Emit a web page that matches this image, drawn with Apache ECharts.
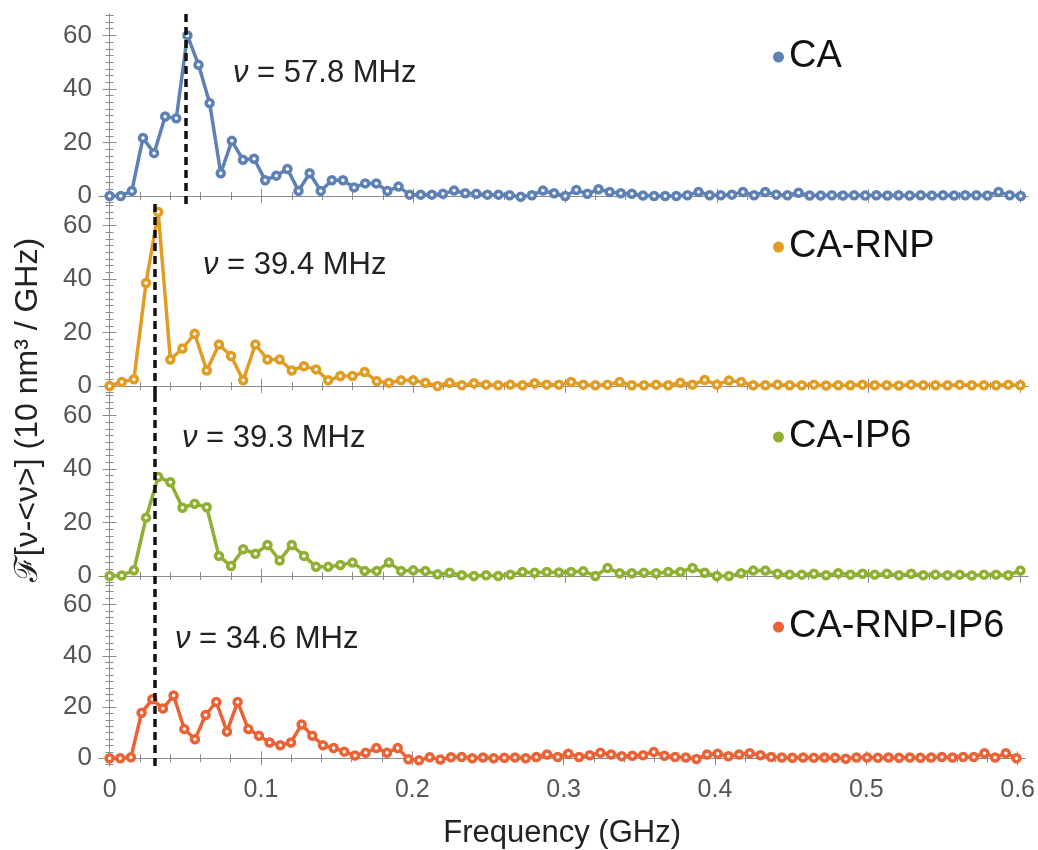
<!DOCTYPE html>
<html>
<head>
<meta charset="utf-8">
<title>Frequency spectra</title>
<script src="https://cdn.jsdelivr.net/npm/echarts@6.0.0/dist/echarts.min.js"></script>
<style>
  html, body { margin: 0; padding: 0; background: #fff; }
  #chart { width: 1038px; height: 850px; }
</style>
</head>
<body>
<div id="chart"></div>
<script>
// one panel per spectrum, top to bottom
var seriesNames = ['CA', 'CA-RNP', 'CA-IP6', 'CA-RNP-IP6'];
var seriesColors = ['#5e81b5', '#e19c24', '#8fb032', '#eb6235'];
// frequency spacing of each spectrum in GHz (first point sits at 0)
var freqSteps = [0.00732, 0.008, 0.008, 0.00705];
// dashed line position (GHz) and the value written next to it (MHz)
var peakFreqs = [0.0515, 0.0326, 0.0317, 0.028];
var peakLabels = ['57.8', '39.4', '39.3', '34.6'];

var caValues = [0, 0, 1.9, 21.7, 16, 29.7, 29, 60, 49, 34.7,
  8.5, 20.6, 13.5, 13.9, 5.9, 7.6, 10.1, 1.9, 8.5, 1.9,
  5.9, 5.9, 3.2, 4.7, 4.7, 1.9, 3.5, 0.5, 0.5, 0.5,
  0.8, 2, 1, 0.8, 0.5, 0.5, 0.3, -0.3, 0.3, 2,
  1, 0, 2.2, 0.8, 2.5, 1.5, 1, 0.8, 0.2, 0,
  0, 0, 0.3, 1.5, 0.3, 0.3, 0.5, 1.5, 0.3, 1.5,
  0.5, 0.3, 1.2, 0.2, 0.2, 0.3, 0.2, 0.3, 0.2, 0.3,
  0.2, 0.3, 0.2, 0.3, 0.2, 0.3, 0.2, 0.3, 0.3, 0.2,
  1.5, 0.3, 0];

var caRnpValues = [0, 1.5, 2.5, 38.5, 65, 9.9, 14, 19.5, 5.8, 15.5,
  11.2, 2.1, 15.5, 9.9, 9.9, 5.8, 7.4, 6.2, 2.1, 3.7,
  3.7, 5.2, 1.8, 1.2, 2.1, 2.1, 1.2, 0, 1.2, 0.3,
  1, 0.5, 0.3, 0.5, 0.3, 1, 0.5, 0.5, 1.5, 0.5,
  0.3, 0.5, 1.5, 0.3, 0.3, 0.5, 0.3, 1.2, 0.5, 2.2,
  0.5, 2, 1.5, 0.3, 0.3, 0.5, 0.3, 0.3, 0.5, 0.2,
  0.3, 0.3, 0.5, 0.3, 0.3, 0.2, 0.5, 0.3, 0.3, 0.3,
  0.5, 0.3, 0.3, 0.3, 0.5, 0.3];

var caIp6Values = [0, 0.2, 2.1, 21.8, 37, 35, 25.5, 27, 25.7, 7.5,
  3.7, 10, 8.3, 11.6, 5.8, 11.6, 7.5, 3.4, 3.4, 4.1,
  5, 1.9, 1.9, 5, 1.9, 2.1, 1.9, 0.6, 1.2, 0.3,
  0, 0.3, 0, 0.5, 1.5, 1.2, 1.5, 1.3, 1.5, 1.8,
  0, 3, 1, 1, 1.2, 1, 1.5, 1.5, 3, 1.2,
  0, 0, 1, 2, 2, 0.8, 0.5, 0.5, 0.8, 0.3,
  1, 0.5, 0.8, 0.5, 0.8, 0.3, 0.8, 0.3, 0.5, 0.3,
  0.5, 0.2, 0.5, 0.5, 0.3, 2];

var caRnpIp6Values = [0, 0, 0.4, 17.8, 23, 19.4, 24.5, 11.4, 7.4, 16.9,
  22, 10.4, 22, 11.4, 8.8, 6.2, 5.1, 6.2, 13.2, 8.8,
  5.1, 4, 2.6, 1.1, 2.2, 4, 2.2, 4, -0.4, -0.8,
  0.4, -0.5, 0.4, 0.5, 0, 0.3, 0, 0.2, 0.3, 0,
  0.5, 1.5, 0.5, 1.8, 0.5, 1.2, 2.2, 1.5, 0.8, 1,
  1.2, 2.5, 1, 0.5, 0.3, -0.3, 1.5, 1.8, 0.8, 1.5,
  2, 1.2, 0.5, 0.3, 0.2, 0.3, 0.2, 0.3, 0.2, -0.2,
  0.3, 0.3, 0.2, 0.3, 0.2, 0.3, 0.2, 0.3, 0.5, 0.3,
  0.5, 0.5, 2, 0.3, 2, 0];

var xTickLabels = [0, 0.1, 0.2, 0.3, 0.4, 0.5, 0.6];
var yTickLabels = [0, 20, 40, 60];

var panelValues = [caValues, caRnpValues, caIp6Values, caRnpIp6Values];

var FONT = 'Liberation Sans, Arial, Helvetica, sans-serif';
var frameColor = '#8c8c8c';
var panelTops = [14, 204, 394, 584];
var panelHeight = 190;
var xMin = -0.007, xMax = 0.605;
var yMin = -3, yMax = 68;

// minor tick positions
var xMinorTicks = [];
for (var t = 0; t <= 30; t++) xMinorTicks.push(+(t * 0.02).toFixed(2));
var yMinorTicks = [];
for (var u = -1; u <= 27; u++) yMinorTicks.push(u * 2.5);

var grids = [], xAxes = [], yAxes = [], series = [], legends = [], graphics = [];

function xAxisFor(k, pos, ticks, len, withLine, withLabels) {
  return {
    type: 'value', gridIndex: k, position: pos, min: xMin, max: xMax,
    axisLine: { show: withLine, lineStyle: { color: frameColor, width: 1 } },
    axisTick: { show: true, inside: true, length: len, customValues: ticks,
      lineStyle: { color: frameColor, width: 1 } },
    axisLabel: { show: withLabels, customValues: ticks, fontSize: 25, color: '#555',
      fontFamily: FONT, margin: 12, formatter: function (v) { return String(v); } },
    splitLine: { show: false },
    name: withLabels ? 'Frequency (GHz)' : '',
    nameLocation: 'middle', nameGap: 52,
    nameTextStyle: { fontSize: 31, color: '#222', fontFamily: FONT }
  };
}

function yAxisFor(k, pos, ticks, len, withLine, withLabels) {
  return {
    type: 'value', gridIndex: k, position: pos, min: yMin, max: yMax,
    axisLine: { show: withLine, lineStyle: { color: frameColor, width: 1 } },
    axisTick: { show: true, inside: true, length: len, customValues: ticks,
      lineStyle: { color: frameColor, width: 1 } },
    axisLabel: { show: withLabels, customValues: ticks, fontSize: 26, color: '#555',
      fontFamily: FONT, margin: 7 },
    splitLine: { show: false }
  };
}

seriesNames.forEach(function (name, k) {
  grids.push({ left: 99, width: 929, top: panelTops[k], height: panelHeight });

  xAxes.push(xAxisFor(k, 'bottom', xTickLabels, 7, true, k === 3));
  xAxes.push(xAxisFor(k, 'bottom', xMinorTicks, 4, false, false));
  xAxes.push(xAxisFor(k, 'top', xTickLabels, 7, true, false));
  xAxes.push(xAxisFor(k, 'top', xMinorTicks, 4, false, false));

  yAxes.push(yAxisFor(k, 'left', yTickLabels, 7, true, true));
  yAxes.push(yAxisFor(k, 'left', yMinorTicks, 4, false, false));
  yAxes.push(yAxisFor(k, 'right', yTickLabels, 7, true, false));
  yAxes.push(yAxisFor(k, 'right', yMinorTicks, 4, false, false));

  var step = freqSteps[k];
  var pts = panelValues[k].map(function (v, i) { return [i * step, v]; });

  series.push({
    name: name,
    type: 'line',
    xAxisIndex: k * 4,
    yAxisIndex: k * 4,
    data: pts,
    color: seriesColors[k],
    symbol: 'circle',
    symbolSize: 7,
    showAllSymbol: true,
    lineStyle: { color: seriesColors[k], width: 3.5 },
    itemStyle: { color: '#fff', borderColor: seriesColors[k], borderWidth: 3.5 },
    emphasis: { disabled: true },
    markLine: {
      silent: true,
      symbol: ['none', 'none'],
      label: { show: false },
      lineStyle: { color: '#111', type: [8, 5], width: 3.5 },
      data: [{ xAxis: peakFreqs[k] }]
    }
  });

  legends.push({
    data: [{ name: name, itemStyle: { color: seriesColors[k], borderWidth: 0 } }],
    left: 768, top: panelTops[k] + 19,
    icon: 'circle', itemWidth: 11, itemHeight: 11,
    selectedMode: false,
    textStyle: { fontSize: 38, color: '#111', fontFamily: FONT }
  });
});

var annotationPos = [[233, 58], [203, 250], [182, 423], [175, 624]];
peakLabels.forEach(function (lbl, k) {
  graphics.push({
    type: 'text',
    left: annotationPos[k][0],
    top: annotationPos[k][1],
    style: {
      text: '{i|ν} = ' + lbl + ' MHz',
      fontSize: 31, fontFamily: FONT, fill: '#222',
      rich: { i: { fontStyle: 'italic', fontSize: 31, fontFamily: FONT, fill: '#222' } }
    }
  });
});

graphics.push({
  type: 'text',
  x: 28, y: 410,
  rotation: Math.PI / 2,
  style: {
    text: 'ℱ[ν-<ν>] (10 nm³ / GHz)',
    fontSize: 32, fontFamily: FONT, fill: '#222',
    textAlign: 'center', textVerticalAlign: 'middle'
  }
});

var chart = echarts.init(document.getElementById('chart'));
chart.setOption({
  animation: false,
  backgroundColor: '#fff',
  grid: grids,
  xAxis: xAxes,
  yAxis: yAxes,
  legend: legends,
  series: series,
  graphic: graphics
});
</script>
</body>
</html>
